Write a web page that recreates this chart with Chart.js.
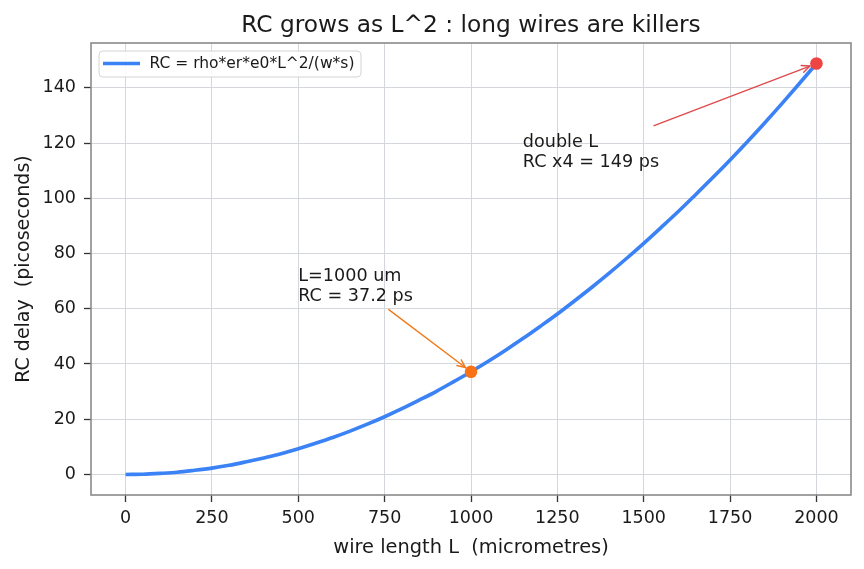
<!DOCTYPE html>
<html>
<head>
<meta charset="utf-8">
<script src="https://cdn.jsdelivr.net/npm/chart.js@4.4.1/dist/chart.umd.min.js"></script>
<style>
html,body{margin:0;padding:0;background:#fff;}
canvas{display:block;}
</style>
</head>
<body>
<canvas id="c" width="864" height="569"></canvas>
<script>
// ---- data ----
const wireLengthUm = [0,50,100,150,200,250,300,350,400,450,500,550,600,650,700,750,800,850,900,950,
  1000,1050,1100,1150,1200,1250,1300,1350,1400,1450,1500,1550,1600,1650,1700,1750,1800,1850,1900,1950,2000];
const rcDelayPs = [0,0.1,0.4,0.8,1.5,2.3,3.3,4.6,6.0,7.5,9.3,11.3,13.4,15.7,18.2,20.9,23.8,26.9,30.1,33.6,
  37.2,41.0,45.0,49.2,53.6,58.1,62.9,67.8,72.9,78.2,83.7,89.4,95.2,101.3,107.5,113.9,120.5,127.3,134.3,141.5,148.8];
const markerL1000 = {x:1000, y:37.2};
const markerL2000 = {x:2000, y:148.8};
const xTickValues = [0,250,500,750,1000,1250,1500,1750,2000];
const yTickValues = [0,20,40,60,80,100,120,140];
const titleText = "RC grows as L^2 : long wires are killers";
const xTitle = "wire length L  (micrometres)";
const yTitle = "RC delay  (picoseconds)";
const seriesLabel = "RC = rho*er*e0*L^2/(w*s)";
const note1Lines = ["L=1000 um", "RC = 37.2 ps"];
const note2Lines = ["double L", "RC x4 = 149 ps"];

const FONT = "'DejaVu Sans', 'Liberation Sans', sans-serif";
const BLUE = '#3b82f6', ORANGE = '#f97316', RED = '#ef4444';

// annotation layout (data coordinates)
const annotations = [
  {lines: note1Lines, text:{x:500, y:70.2}, from:{x:762, y:59.7}, to:markerL1000, color:'#f07a1a'},
  {lines: note2Lines, text:{x:1150, y:118.6}, from:{x:1530, y:126.3}, to:markerL2000, color:'#e04a4a'}
];

const mainData = wireLengthUm.map((x,i)=>({x:x, y:rcDelayPs[i]}));

function drawArrow(ctx, x1,y1,x2,y2,color,shrink){
  const dx=x2-x1, dy=y2-y1, len=Math.hypot(dx,dy);
  const ux=dx/len, uy=dy/len;
  const ex=x2-ux*shrink, ey=y2-uy*shrink;
  ctx.save();
  ctx.strokeStyle=color; ctx.lineWidth=1.4; ctx.lineCap='round'; ctx.lineJoin='round';
  ctx.beginPath(); ctx.moveTo(x1,y1); ctx.lineTo(ex,ey); ctx.stroke();
  const hl=8, hw=3.6;
  const bx=ex-ux*hl, by=ey-uy*hl;
  ctx.beginPath();
  ctx.moveTo(bx-uy*hw, by+ux*hw); ctx.lineTo(ex,ey); ctx.lineTo(bx+uy*hw, by-ux*hw);
  ctx.stroke();
  ctx.restore();
}

const decor = {
  id:'decor',
  afterDatasetsDraw(chart){
    const ctx=chart.ctx, xs=chart.scales.x, ys=chart.scales.y;
    annotations.forEach(an=>{
      ctx.save();
      ctx.font = "17.6px " + FONT; ctx.fillStyle='#1a1a1a'; ctx.textAlign='left'; ctx.textBaseline='alphabetic';
      const tx=xs.getPixelForValue(an.text.x), ty=ys.getPixelForValue(an.text.y);
      an.lines.forEach((ln,i)=>ctx.fillText(ln, tx, ty + i*20.5));
      ctx.restore();
      drawArrow(ctx, xs.getPixelForValue(an.from.x), ys.getPixelForValue(an.from.y),
        xs.getPixelForValue(an.to.x), ys.getPixelForValue(an.to.y), an.color, 7);
    });
  },
  afterDraw(chart){
    const ctx=chart.ctx, a=chart.chartArea;
    ctx.save();
    ctx.strokeStyle='#8a8a8a'; ctx.lineWidth=1.6;
    ctx.strokeRect(a.left, a.top, a.right-a.left, a.bottom-a.top);
    ctx.fillStyle='#1a1a1a'; ctx.font="23.3px "+FONT; ctx.textAlign='center'; ctx.textBaseline='alphabetic';
    ctx.fillText(titleText, (a.left+a.right)/2, 32);
    ctx.font="19.4px "+FONT;
    ctx.fillText(xTitle, (a.left+a.right)/2, 553);
    ctx.save();
    ctx.font="19px "+FONT;
    ctx.translate(29, (a.top+a.bottom)/2); ctx.rotate(-Math.PI/2);
    ctx.fillText(yTitle, 0, 0);
    ctx.restore();
    // legend
    const lx=99, ly=51, lw=262, lh=26, r=4;
    ctx.beginPath();
    ctx.moveTo(lx+r,ly); ctx.lineTo(lx+lw-r,ly); ctx.quadraticCurveTo(lx+lw,ly,lx+lw,ly+r);
    ctx.lineTo(lx+lw,ly+lh-r); ctx.quadraticCurveTo(lx+lw,ly+lh,lx+lw-r,ly+lh);
    ctx.lineTo(lx+r,ly+lh); ctx.quadraticCurveTo(lx,ly+lh,lx,ly+lh-r);
    ctx.lineTo(lx,ly+r); ctx.quadraticCurveTo(lx,ly,lx+r,ly); ctx.closePath();
    ctx.fillStyle='rgba(255,255,255,0.85)'; ctx.fill();
    ctx.strokeStyle='#d4d4d4'; ctx.lineWidth=1; ctx.stroke();
    ctx.strokeStyle=BLUE; ctx.lineWidth=3.5; ctx.lineCap='butt';
    ctx.beginPath(); ctx.moveTo(103,63.5); ctx.lineTo(140,63.5); ctx.stroke();
    ctx.fillStyle='#1a1a1a'; ctx.font="15.5px "+FONT; ctx.textAlign='left'; ctx.textBaseline='middle';
    ctx.fillText(seriesLabel, 149.5, 64);
    ctx.restore();
  }
};

new Chart(document.getElementById('c'), {
  type:'line',
  data:{
    datasets:[
      {label:seriesLabel, data:mainData, borderColor:BLUE, borderWidth:3.6, pointRadius:0, cubicInterpolationMode:'monotone', fill:false, order:3},
      {label:'L1000', data:[markerL1000], borderColor:ORANGE, backgroundColor:ORANGE, pointRadius:6.3, pointBorderWidth:0, showLine:false, order:1},
      {label:'L2000', data:[markerL2000], borderColor:RED, backgroundColor:RED, pointRadius:6.3, pointBorderWidth:0, showLine:false, order:1}
    ]
  },
  options:{
    responsive:false, animation:false, devicePixelRatio:1,
    layout:{padding:{top:43, right:13, left:0, bottom:0}},
    plugins:{legend:{display:false}, title:{display:false}, tooltip:{enabled:false}},
    scales:{
      x:{
        type:'linear', min:-100, max:2100,
        afterFit(s){ s.height = 74; },
        afterBuildTicks(s){ s.ticks = xTickValues.map(v=>({value:v})); },
        grid:{color:'#d3d7dc', lineWidth:1, drawTicks:true, tickLength:7, tickColor:'#333', tickWidth:1.3},
        border:{display:false},
        ticks:{callback:v=>String(v), font:{family:FONT, size:17.5}, color:'#1a1a1a', padding:6, maxRotation:0, autoSkip:false}
      },
      y:{
        type:'linear', min:-7.44, max:156.24,
        afterFit(s){ s.width = 91; },
        afterBuildTicks(s){ s.ticks = yTickValues.map(v=>({value:v})); },
        grid:{color:'#d3d7dc', lineWidth:1, drawTicks:true, tickLength:7, tickColor:'#333', tickWidth:1.3},
        border:{display:false},
        ticks:{callback:v=>String(v), font:{family:FONT, size:17.5}, color:'#1a1a1a', padding:8, autoSkip:false}
      }
    }
  },
  plugins:[decor]
});
</script>
</body>
</html>
